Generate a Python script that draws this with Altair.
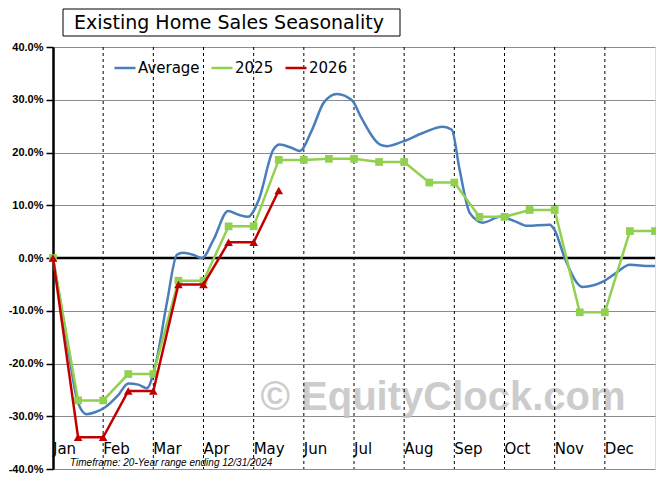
import altair as alt
import pandas as pd

months = ["Jan", "Feb", "Mar", "Apr", "May", "Jun", "Jul", "Aug", "Sep", "Oct", "Nov", "Dec"]

# Average seasonal curve (x in months from Jan 1, y in %)
avg_x = [0.0, 0.25, 0.5, 0.67, 0.85, 1.04, 1.3, 1.5, 1.7, 1.87, 2.05, 2.27, 2.47, 2.59, 2.8, 2.97,
         3.2, 3.49, 3.7, 3.89, 4.1, 4.39, 4.52, 4.75, 4.92, 5.15, 5.4, 5.66, 5.96, 6.15, 6.52, 6.66,
         6.98, 7.37, 7.77, 7.95, 8.1, 8.31, 8.57, 8.91, 9.2, 9.45, 9.9, 10.0, 10.2, 10.56, 10.96,
         11.2, 11.5, 11.9, 12.0]
avg_y = [0.0, -14.0, -27.5, -29.6, -29.2, -28.3, -26.0, -23.8, -24.0, -24.7, -20.0, -8.5, 0.6, 1.0, 0.6, 0.0,
         3.5, 8.9, 8.2, 7.8, 11.0, 20.5, 21.5, 20.9, 20.3, 24.0, 29.5, 31.1, 29.9, 26.5, 21.5, 21.2,
         22.1, 23.7, 24.9, 24.3, 17.0, 8.5, 6.7, 7.8, 7.0, 6.1, 6.3, 5.3, 0.0, -5.5, -4.5,
         -3.0, -1.3, -1.5, -1.5]

# 2025 and 2026 (mid-month and month-end readings)
y2025 = [0.0, -27.0, -27.0, -22.0, -22.0, -4.3, -4.3, 6.0, 6.0, 18.6, 18.6, 18.8, 18.8,
         18.2, 18.2, 14.3, 14.3, 7.8, 7.8, 9.1, 9.1, -10.3, -10.3, 5.1, 5.1]
y2026 = [0.0, -34.0, -34.0, -25.2, -25.2, -5.0, -5.0, 3.0, 3.0, 12.8]

series_names = ["Average", "2025", "2026"]
series_colors = ["#4a7ebb", "#92d050", "#c00000"]

avg_df = pd.DataFrame({"x": avg_x, "y": avg_y, "series": "Average"})
df25 = pd.DataFrame({"x": [i * 0.5 for i in range(len(y2025))], "y": y2025, "series": "2025"})
df26 = pd.DataFrame({"x": [i * 0.5 for i in range(len(y2026))], "y": y2026, "series": "2026"})
month_df = pd.DataFrame({"m": list(range(12)), "label": months})
bounds_df = pd.DataFrame({"b": list(range(1, 12))})
one = pd.DataFrame({"a": [0]})

W, H = 602, 422
xs = alt.Scale(domain=[0, 12], nice=False, zero=False)
ys = alt.Scale(domain=[-40, 40], nice=False, zero=False)

color = alt.Color(
    "series:N",
    scale=alt.Scale(domain=series_names, range=series_colors),
    legend=alt.Legend(
        orient="none", legendX=60, legendY=9, direction="horizontal", title=None,
        symbolType="stroke", symbolSize=440, symbolStrokeWidth=2.5,
        labelFont="DejaVu Sans", labelFontSize=15, labelColor="#000000",
        labelOffset=1, columnPadding=6,
    ),
)

watermark = alt.Chart(one).mark_text(
    text="© EquityClock.com", font="Liberation Sans", fontWeight="bold", fontSize=40,
    color="#c4c4c4", opacity=0.85, align="center", baseline="middle",
).encode(x=alt.value(390), y=alt.value(351))

base_y = alt.Chart(one).mark_point(opacity=0).encode(
    y=alt.Y("a:Q", scale=ys,
            axis=alt.Axis(values=[-40, -30, -20, -10, 0, 10, 20, 30, 40],
                          labelExpr="(datum.value < 0 ? '-' : '') + format(abs(datum.value), '.1f') + '%'",
                          labelFont="Liberation Sans", labelFontWeight="bold", labelFontSize=11,
                          labelColor="#000000", grid=True, gridColor="#8c8c8c", gridWidth=1,
                          domainColor="#000000", domainWidth=2.5, tickColor="#000000",
                          tickSize=7, tickWidth=1.5, labelPadding=3, title=None)),
)

vlines = alt.Chart(bounds_df).mark_rule(color="#000000", strokeDash=[3, 3], strokeWidth=1).encode(
    x=alt.X("b:Q", scale=xs, axis=None), y=alt.value(0), y2=alt.value(H)
)

zero = alt.Chart(one).mark_rule(color="#000000", strokeWidth=2.5).encode(
    y=alt.Y("a:Q", scale=ys), x=alt.value(0), x2=alt.value(W)
)

avg_line = alt.Chart(avg_df).mark_line(strokeWidth=2.5, interpolate="monotone").encode(
    x=alt.X("x:Q", scale=xs, axis=None), y=alt.Y("y:Q", scale=ys), color=color
)
l25 = alt.Chart(df25).mark_line(strokeWidth=2.5).encode(
    x=alt.X("x:Q", scale=xs), y=alt.Y("y:Q", scale=ys), color=color
)
p25 = alt.Chart(df25).mark_point(shape="square", filled=True, size=60, opacity=1).encode(
    x=alt.X("x:Q", scale=xs), y=alt.Y("y:Q", scale=ys), color=alt.value("#92d050")
)
l26 = alt.Chart(df26).mark_line(strokeWidth=2.5).encode(
    x=alt.X("x:Q", scale=xs), y=alt.Y("y:Q", scale=ys), color=color
)
p26 = alt.Chart(df26).mark_point(shape="triangle-up", filled=True, size=75, opacity=1).encode(
    x=alt.X("x:Q", scale=xs), y=alt.Y("y:Q", scale=ys), color=alt.value("#c00000")
)

month_text = alt.Chart(month_df).mark_text(
    font="DejaVu Sans", fontSize=15, color="#000000", align="left", baseline="middle", dx=0
).encode(x=alt.X("m:Q", scale=xs), y=alt.value(402), text="label:N")

footnote = alt.Chart(one).mark_text(
    text="Timeframe: 20-Year range ending 12/31/2024", font="Liberation Sans", fontStyle="italic",
    fontSize=10, color="#000000", align="left", baseline="middle",
).encode(x=alt.value(17), y=alt.value(416))

title_box = alt.Chart(one).mark_rect(fill="#ffffff", stroke="#000000", strokeWidth=1).encode(
    x=alt.value(10), x2=alt.value(347), y=alt.value(-38), y2=alt.value(-11)
)
title_text = alt.Chart(one).mark_text(
    text="Existing Home Sales Seasonality", font="DejaVu Sans", fontSize=19, color="#000000",
    align="center", baseline="middle",
).encode(x=alt.value(176), y=alt.value(-24))

chart = alt.layer(
    watermark, base_y, vlines, zero, avg_line, l25, p25, l26, p26,
    month_text, footnote, title_box, title_text,
).properties(
    width=W, height=H,
    autosize=alt.AutoSizeParams(type="none"),
    padding={"left": 45, "top": 39, "right": 1, "bottom": 5},
).configure_view(stroke=None).configure(background="#ffffff")

chart.save("out.html", embed_options={"renderer": "svg", "actions": False})
